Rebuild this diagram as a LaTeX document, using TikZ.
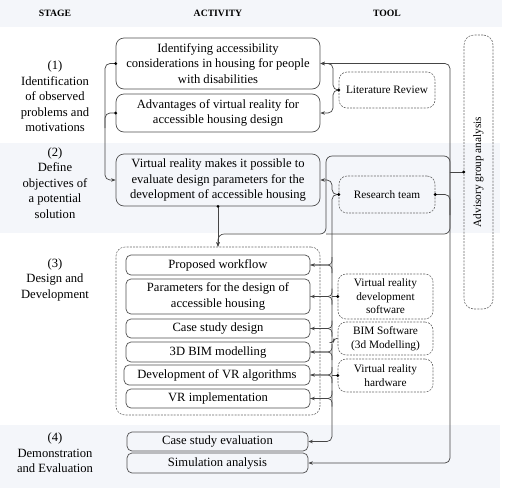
\documentclass[tikz,border=0pt]{standalone}
\usepackage{fontspec}
\setmainfont{Liberation Serif}
\usetikzlibrary{arrows.meta}
\definecolor{band}{HTML}{F4F6FA}
\definecolor{boxc}{HTML}{505050}
\definecolor{dashc}{HTML}{6A6A6A}
\definecolor{linec}{HTML}{454545}
\begin{document}
\begin{tikzpicture}[x=1pt,y=-1pt,
  act/.style={draw=boxc, line width=0.7pt, rounded corners=8pt, align=center,
    font=\fontsize{12.6}{15.5}\selectfont, inner sep=0pt},
  sub/.style={act, rounded corners=5pt, minimum width=184pt},
  toolbox/.style={draw=dashc, line width=0.6pt, dash pattern=on 2pt off 1.2pt, rounded corners=8pt,
    align=center, font=\fontsize{11.3}{13.5}\selectfont, inner sep=0pt},
  stagelbl/.style={align=center, font=\fontsize{12.6}{15.5}\selectfont, inner sep=0pt},
  hdr/.style={font=\fontsize{9.7}{11}\selectfont\bfseries, inner sep=0pt},
  con/.style={draw=linec, line width=0.7pt, rounded corners=5pt},
  arr/.style={con, -{Stealth[length=4.5pt,width=3.5pt]}},
  dotc/.style={fill=black}
]
\useasboundingbox (0,0) rectangle (508,488);
% bands
\fill[band] (0,0) rectangle (502,27);
\fill[band] (0,143) rectangle (500,233);
\fill[band] (0,425) rectangle (500,488);
% headers
\node[hdr] (hS) at (55,13) {STAGE};
\node[hdr] (hA) at (218,13) {ACTIVITY};
\node[hdr] (hT) at (387,13) {TOOL};
% stage labels
\node[stagelbl] (s1) at (55,96.5) {(1)\\Identification\\of observed\\problems and\\motivations};
\node[stagelbl] (s2) at (55,183) {(2)\\Define\\objectives of\\a potential\\solution};
\node[stagelbl] (s3) at (55,279.5) {(3)\\Design and\\Development};
\node[stagelbl] (s4) at (55,453) {(4)\\Demonstration\\and Evaluation};
% activities
\node[act, minimum width=204pt, minimum height=51pt] (A1) at (218,63.5)
  {Identifying accessibility\\considerations in housing for people\\with disabilities};
\node[act, minimum width=204pt, minimum height=38pt] (A2) at (218,113)
  {Advantages of virtual reality for\\accessible housing design};
\node[act, minimum width=204pt, minimum height=52pt] (B) at (218,180)
  {Virtual reality makes it possible to\\evaluate design parameters for the\\development of accessible housing};
\node[draw=dashc, line width=0.6pt, dash pattern=on 2pt off 1.2pt, rounded corners=9pt,
  minimum width=204pt, minimum height=168pt, inner sep=0pt] (CONT) at (218,331) {};
\node[sub, minimum height=20pt] (PW) at (218,265) {Proposed workflow};
\node[sub, minimum height=35pt] (PAR) at (218,296.5) {Parameters for the design of\\accessible housing};
\node[sub, minimum height=19pt] (CSD) at (218,328.5) {Case study design};
\node[sub, minimum height=20pt] (BIM) at (218,352) {3D BIM modelling};
\node[sub, minimum height=20pt, minimum width=186pt] (DEV) at (217,375) {Development of VR algorithms};
\node[sub, minimum height=19pt] (VRI) at (218,398.5) {VR implementation};
\node[act, rounded corners=5pt, minimum width=181pt, minimum height=19pt] (CSE) at (217.5,441.5) {Case study evaluation};
\node[act, rounded corners=5pt, minimum width=181pt, minimum height=20pt] (SIM) at (217.5,463) {Simulation analysis};
% tools
\node[toolbox, minimum width=96pt, minimum height=36pt] (LR) at (387,90) {Literature Review};
\node[toolbox, minimum width=96pt, minimum height=37pt] (RT) at (387,194.5) {Research team};
\node[toolbox, minimum width=95pt, minimum height=45pt] (VRD) at (385.5,296.5) {Virtual reality\\development\\software};
\node[toolbox, minimum width=95pt, minimum height=33pt] (BIMS) at (385.5,338.5) {BIM Software\\(3d Modelling)};
\node[toolbox, minimum width=95pt, minimum height=33pt] (VRH) at (385.5,375.5) {Virtual reality\\hardware};
\node[toolbox, rounded corners=10pt, minimum width=29pt, minimum height=274pt] (ADV) at (478.5,172) {};
\node[rotate=90, font=\fontsize{11.3}{13.5}\selectfont, inner sep=0pt] (ADVt) at (ADV.center) {Advisory group analysis};
% coordinates
\coordinate (J) at (450,172);
\coordinate (L1) at (105,63.5);
\coordinate (LRj) at (333,90);
\coordinate (RTj) at (332,194.5);
% stage 1 left loop
\draw[arr] (A1.west) -- (L1) |- (B.west);
\draw[con] (A2.west) -| (105,128);
% literature review
\draw[arr] (LR.west) -- (LRj) |- (A1.east);
\draw[arr] (LR.west) -- (LRj) |- (A2.east);
% advisory
\draw[con] (ADV.west) -- (J);
\draw[arr] (J) |- (A1.east);
\draw[arr] (J) |- (SIM.east);
\draw[arr, rounded corners=6pt] (J) |- (326,156) |- (218,234) -- (CONT.north);
\draw[con, rounded corners=6pt] (J) |- (326,234);
\draw[arr] (B.south) -- (CONT.north);
% research team
\draw[arr] (RT.west) -- (RTj) |- (B.east);
\draw[arr] (RT.west) -- (RTj) |- (CSE.east);
\draw[con] (RT.east) -| (450,215);
% inner arrows
\foreach \n in {PW,PAR,CSD,BIM,DEV,VRI}{
  \draw[con, rounded corners=4pt] (RTj |- \n.east) ++(0,-8) |- (\n.east);
  \draw[arr, rounded corners=4pt] (RTj |- \n.east) ++(0,8) |- (\n.east);
}
% stage 3 tools
\draw[con] (VRD.west) -- (RTj |- VRD.west);
\draw[con, rounded corners=3pt] (BIMS.west) -- ++(-4,0) -- ++(0,4) -- (RTj |- 0,342.5);
\draw[con] (VRH.west) -- (RTj |- VRH.west);
% dots
\foreach \p in {A1.west,A2.west,LR.west,ADV.west,B.south,RT.west,RT.east,VRD.west,VRH.west}{
  \fill (\p) circle (1.6pt);
}
\end{tikzpicture}
\end{document}
